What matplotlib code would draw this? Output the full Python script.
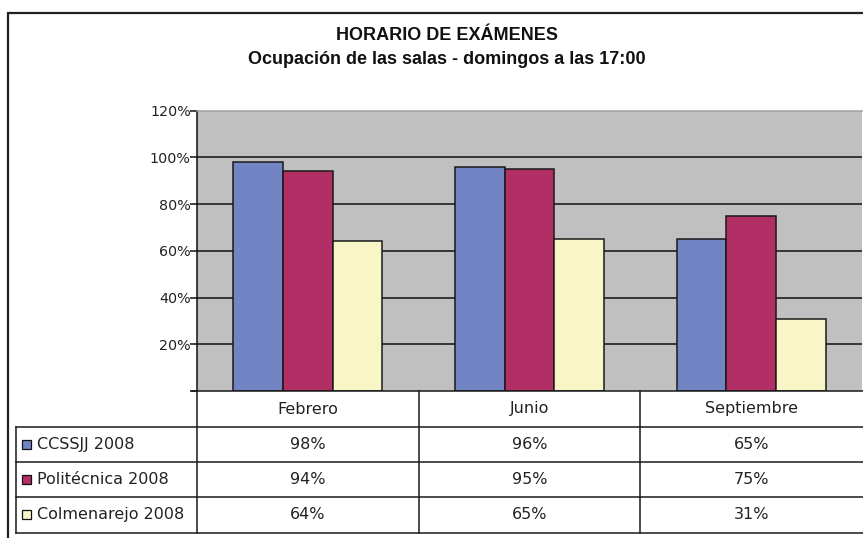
import matplotlib.pyplot as plt
import numpy as np

months = ["Febrero", "Junio", "Septiembre"]
series = ["CCSSJJ 2008", "Politécnica 2008", "Colmenarejo 2008"]
ccssjj = [98, 96, 65]
politecnica = [94, 95, 75]
colmenarejo = [64, 65, 31]
colors = ["#7185C4", "#B12F64", "#F8F6C6"]

values = [ccssjj, politecnica, colmenarejo]

W, H = 863, 538
fig = plt.figure(figsize=(W / 100, H / 100), dpi=100)

# plot area in pixels
px_l, px_r, px_t, px_b = 197, 862, 110.5, 391
ax = fig.add_axes([px_l / W, 1 - px_b / H, (px_r - px_l) / W, (px_b - px_t) / H])
ax.set_facecolor("#C0C0C0")

x = np.arange(len(months))
w = 0.224
for i, vals in enumerate(values):
    ax.bar(x + (i - 1) * w, vals, w, color=colors[i], edgecolor="#1a1a1a", linewidth=1.1, zorder=3)

ax.set_xlim(-0.5, 2.5)
ax.set_ylim(0, 120)
ax.set_yticks([0, 20, 40, 60, 80, 100, 120])
ax.set_yticklabels(["", "20%", "40%", "60%", "80%", "100%", "120%"])
ax.set_xticks([])
for yv in [20, 40, 60, 80, 100]:
    ax.axhline(yv, color="#111111", lw=1.1, zorder=1)
ax.tick_params(axis="y", length=5, width=1.1, color="#111111", pad=-0.5, labelsize=10.3, labelcolor="#222222")
for lab in ax.get_yticklabels():
    lab.set_fontfamily("DejaVu Sans")
ax.spines["top"].set_color("#A0A0A0")
ax.spines["top"].set_linewidth(1.1)
ax.spines["right"].set_visible(False)
ax.spines["bottom"].set_visible(False)
ax.spines["left"].set_color("#111111")
ax.spines["left"].set_linewidth(1.1)

# overlay for frame, titles and data table
ov = fig.add_axes([0, 0, 1, 1], facecolor="none")
ov.set_xlim(0, W)
ov.set_ylim(H, 0)
ov.axis("off")

# outer frame
ov.plot([8, 8, W], [H, 13, 13], color="#222222", lw=1.6, solid_joinstyle="miter")

ov.text(447, 39.5, "HORARIO DE EXÁMENES", ha="center", va="baseline",
        fontsize=13, fontweight="bold", family="Liberation Sans", color="#111111")
ov.text(447, 64, "Ocupación de las salas - domingos a las 17:00", ha="center", va="baseline",
        fontsize=13, fontweight="bold", family="Liberation Sans", color="#111111")

# data table
col_edges = [197, 418.7, 640.3, 862]
row_y = [427, 462, 497, 532.5]
lc = "#1a1a1a"
ov.plot([192, W], [391, 391], color=lc, lw=1.1)
for yy in row_y:
    ov.plot([16, W], [yy, yy], color=lc, lw=1.1)
ov.plot([16, 16], [row_y[0], row_y[-1]], color=lc, lw=1.1)
for xx in col_edges[:3]:
    ov.plot([xx, xx], [391, row_y[-1]], color=lc, lw=1.1)

tfont = dict(family="DejaVu Sans", fontsize=11.5, color="#222222")
for j, m in enumerate(months):
    cx = (col_edges[j] + col_edges[j + 1]) / 2
    ov.text(cx, 409, m, ha="center", va="center", **tfont)
    for i, vals in enumerate(values):
        cy = (row_y[i] + row_y[i + 1]) / 2
        ov.text(cx, cy, f"{vals[j]}%", ha="center", va="center", **tfont)

for i, name in enumerate(series):
    cy = (row_y[i] + row_y[i + 1]) / 2
    ov.add_patch(plt.Rectangle((22, cy - 4.5), 9, 9, facecolor=colors[i], edgecolor="#111111", lw=0.9))
    ov.text(37, cy, name, ha="left", va="center", **tfont)

fig.savefig("out.png", dpi=100)
